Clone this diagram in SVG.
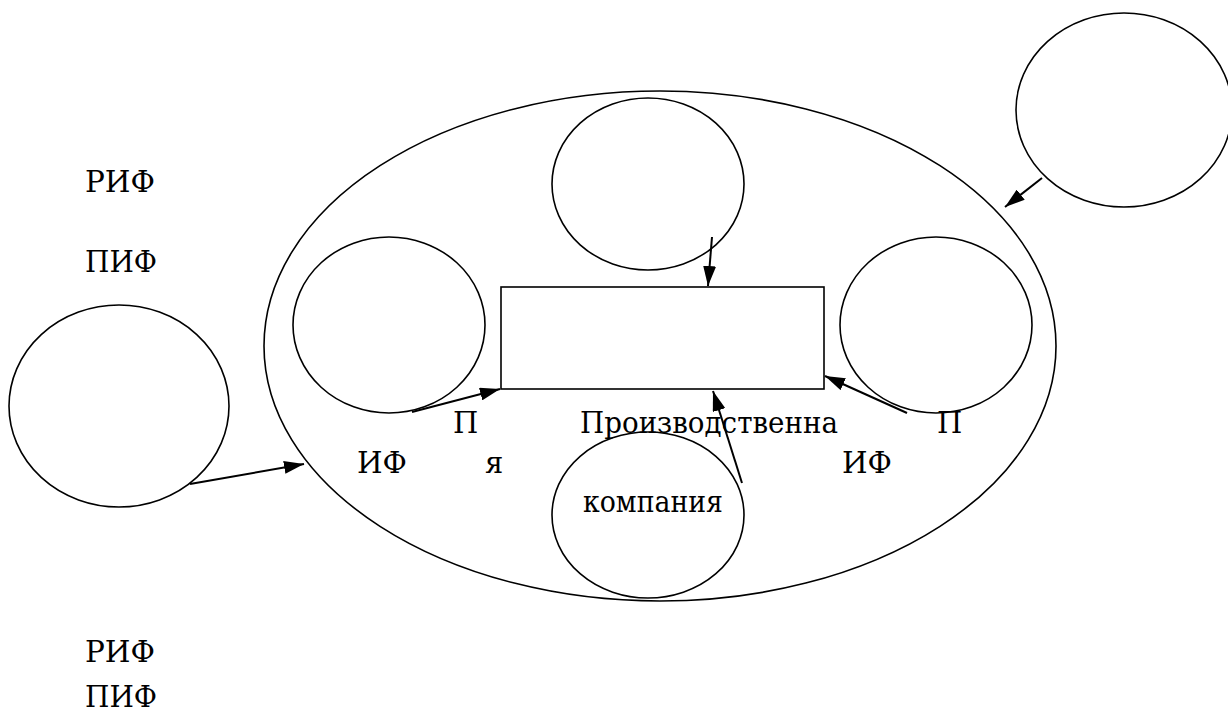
<svg xmlns="http://www.w3.org/2000/svg" width="1228" height="713" viewBox="0 0 1228 713">
<style>
.s{fill:none;stroke:#000;stroke-width:1.6}
.a{fill:none;stroke:#000;stroke-width:2}
.t{font-family:'DejaVu Serif','Liberation Serif',serif;font-size:29px;fill:#000}
</style>
<defs>
<marker id="ar" viewBox="0 0 20 13" refX="20" refY="6.5" markerWidth="20" markerHeight="13" markerUnits="userSpaceOnUse" orient="auto" preserveAspectRatio="none">
<path d="M0,0 L20,6.5 L0,13 z" fill="#000"/>
</marker>
</defs>
<rect width="1228" height="713" fill="#fff"/>
<g id="company-ellipse"><ellipse class="s" cx="660" cy="346" rx="396" ry="255"/></g>
<g id="top-circle"><ellipse class="s" cx="648" cy="184" rx="96" ry="86"/></g>
<g id="left-circle"><ellipse class="s" cx="389" cy="325" rx="96" ry="88"/></g>
<g id="right-circle"><ellipse class="s" cx="936" cy="325" rx="96" ry="88"/></g>
<g id="bottom-circle"><ellipse class="s" cx="648" cy="515" rx="96" ry="83"/></g>
<g id="outer-left-circle"><ellipse class="s" cx="119" cy="406" rx="110" ry="101"/></g>
<g id="outer-right-circle"><ellipse class="s" cx="1124" cy="110" rx="108" ry="97"/></g>
<g id="center-rect"><rect class="s" x="501" y="287" width="323" height="102"/></g>
<g id="connectors">
<line class="a" x1="712" y1="237" x2="708" y2="286" marker-end="url(#ar)"/>
<line class="a" x1="742" y1="483" x2="713" y2="391" marker-end="url(#ar)"/>
<line class="a" x1="412" y1="412" x2="500" y2="389" marker-end="url(#ar)"/>
<line class="a" x1="907" y1="413" x2="825" y2="376" marker-end="url(#ar)"/>
<line class="a" x1="190" y1="484" x2="304" y2="464" marker-end="url(#ar)"/>
<line class="a" x1="1042" y1="178" x2="1005" y2="207" marker-end="url(#ar)"/>
</g>
<g id="labels">
<text class="t" x="85" y="192" textLength="70" lengthAdjust="spacingAndGlyphs">РИФ</text>
<text class="t" x="85" y="272" textLength="72" lengthAdjust="spacingAndGlyphs">ПИФ</text>
<text class="t" x="85" y="662" textLength="70" lengthAdjust="spacingAndGlyphs">РИФ</text>
<text class="t" x="85" y="707" textLength="72" lengthAdjust="spacingAndGlyphs">ПИФ</text>
<text class="t" x="453" y="433">П</text>
<text class="t" x="357" y="473" textLength="50" lengthAdjust="spacingAndGlyphs">ИФ</text>
<text class="t" x="485" y="473">я</text>
<text class="t" x="580" y="433" textLength="258" lengthAdjust="spacingAndGlyphs">Производственна</text>
<text class="t" x="583" y="512" textLength="140" lengthAdjust="spacingAndGlyphs">компания</text>
<text class="t" x="937" y="433">П</text>
<text class="t" x="842" y="473" textLength="50" lengthAdjust="spacingAndGlyphs">ИФ</text>
</g>
</svg>
